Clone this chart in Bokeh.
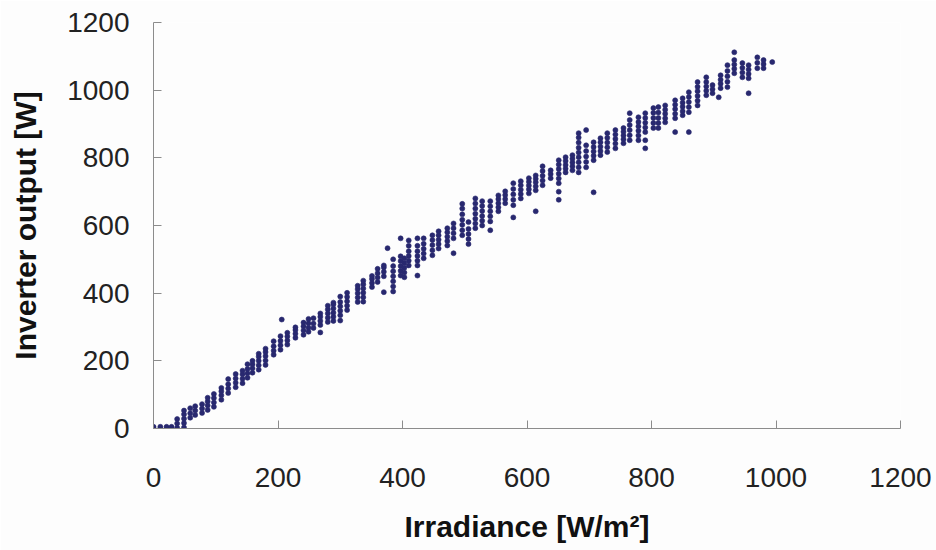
from bokeh.plotting import figure
from bokeh.models import FixedTicker, Range1d, ColumnDataSource
from bokeh.embed import file_html
from bokeh.resources import INLINE

# Irradiance columns [W/m²] and the inverter outputs [W] measured at each
irradiance = [0, 11, 21, 29, 38, 49, 59, 67, 78, 87, 97, 109, 120, 132, 143, 151, 159,
              169, 180, 193, 204, 206, 215, 228, 241, 249, 257, 268, 280, 289, 300, 311,
              328, 337, 351, 360, 370, 376, 385, 397, 403, 410, 424, 434, 448, 458, 472,
              482, 496, 506, 517, 528, 541, 554, 565, 578, 590, 603, 614, 625, 638, 651,
              662, 673, 683, 695, 707, 718, 729, 742, 755, 765, 779, 790, 803, 811, 822,
              838, 850, 860, 874, 888, 898, 908, 911, 922, 933, 946, 956, 970, 980, 994]
output = [
    [0, 5], [0, 5], [0, 5], [0, 5], [2, 15, 28], [3, 16, 29, 42, 53],
    [32, 45, 60], [40, 53, 66], [46, 59, 72], [55, 68, 80, 91], [64, 77, 90, 102],
    [85, 98, 110, 120], [105, 118, 131, 146], [122, 135, 148, 161], [134, 147, 160, 171],
    [150, 163, 176, 190], [165, 178, 190, 200], [174, 187, 200, 212, 221],
    [188, 201, 214, 226, 236], [218, 230, 243, 258], [233, 246, 259, 273], [322],
    [248, 260, 272, 283], [268, 280, 291, 299], [277, 290, 302, 313], [286, 298, 311, 324],
    [297, 310, 326], [284, 306, 318, 330, 340], [315, 327, 340, 352, 363],
    [318, 330, 342, 355, 367, 372], [319, 335, 348, 361, 374, 390], [350, 363, 376, 389, 401],
    [374, 387, 400, 412, 422], [375, 388, 401, 414, 426, 437], [418, 430, 442, 451],
    [433, 446, 459, 472], [403, 450, 463, 476, 482], [533], [405, 420, 435, 450, 465, 480, 500],
    [452, 466, 480, 495, 509, 562], [447, 461, 475, 489, 503], [482, 496, 510, 524, 540, 556],
    [452, 482, 496, 510, 524, 540, 562], [503, 517, 531, 546, 562], [512, 527, 542, 557, 571],
    [532, 545, 558, 571, 583], [541, 554, 567, 580, 592], [518, 562, 577, 592, 606],
    [571, 586, 602, 617, 633, 650, 664], [545, 560, 575, 590, 610],
    [592, 606, 620, 635, 650, 665, 680], [600, 614, 628, 643, 658, 672],
    [586, 612, 627, 642, 657, 672], [642, 654, 666, 678, 689], [666, 678, 690, 701],
    [624, 660, 676, 692, 708, 725], [680, 693, 706, 719, 731], [695, 707, 718, 729, 740],
    [642, 704, 716, 728, 738, 748], [719, 733, 747, 761, 775], [740, 752, 763],
    [676, 700, 725, 739, 753, 767, 780, 793], [757, 768, 779, 791, 802],
    [763, 775, 786, 797, 808], [757, 772, 787, 802, 816, 830, 845, 860, 873],
    [772, 788, 804, 820, 837, 882], [698, 793, 806, 819, 832, 846], [808, 820, 833, 846, 858],
    [817, 831, 845, 859, 873], [828, 842, 856, 869, 882], [843, 855, 866, 877, 888],
    [852, 867, 882, 897, 912, 932], [852, 866, 880, 893, 906, 920],
    [828, 852, 876, 890, 904, 918, 932], [888, 903, 918, 933, 947], [888, 903, 918, 934, 950],
    [905, 917, 930, 942, 955], [876, 917, 930, 944, 957, 970], [926, 938, 951, 963, 976],
    [876, 935, 950, 965, 980, 994], [955, 969, 983, 997, 1010, 1024],
    [985, 998, 1011, 1024, 1038], [991, 1003, 1015], [979], [1006, 1019, 1031, 1044],
    [1009, 1025, 1041, 1057, 1074], [1050, 1063, 1076, 1089, 1112], [1038, 1052, 1066, 1080],
    [991, 1035, 1048, 1061, 1074], [1065, 1081, 1097], [1065, 1077, 1089], [1083],
]
axis_ticks = [0, 200, 400, 600, 800, 1000, 1200]

xs, ys = [], []
for x, col in zip(irradiance, output):
    for y in col:
        xs.append(x)
        ys.append(y)
src = ColumnDataSource(data=dict(x=xs, y=ys))

FONT = "Liberation Sans"
p = figure(width=936, height=550, output_backend="svg", toolbar_location=None,
           x_range=Range1d(0, 1200), y_range=Range1d(0, 1200),
           min_border_left=153, min_border_right=36, min_border_top=22, min_border_bottom=122)
p.background_fill_color = "#fdfdfd"
p.border_fill_color = "#fdfdfd"
p.outline_line_color = None
p.grid.visible = False

p.scatter("x", "y", source=src, size=5, marker="circle",
          fill_color="#28286f", line_color="#28286f", line_width=0.6)

for ax in (p.xaxis[0], p.yaxis[0]):
    ax.ticker = FixedTicker(ticks=axis_ticks)
    ax.minor_tick_line_color = None
    ax.major_tick_in = 8
    ax.major_tick_out = 0
    ax.axis_line_color = "#8c8c8c"
    ax.major_tick_line_color = "#8c8c8c"
    ax.major_label_text_font = FONT
    ax.major_label_text_font_size = "28px"
    ax.major_label_text_color = "#222222"
    ax.axis_label_text_font = FONT
    ax.axis_label_text_font_size = "30px"
    ax.axis_label_text_font_style = "bold"
    ax.axis_label_text_color = "#111111"

p.xaxis.axis_label = "Irradiance [W/m²]"
p.yaxis.axis_label = "Inverter output [W]"
p.xaxis.major_label_standoff = 39
p.yaxis.major_label_standoff = 24
p.xaxis.axis_label_standoff = 20
p.yaxis.axis_label_standoff = 22

open("out.html", "w").write(file_html(p, INLINE))
